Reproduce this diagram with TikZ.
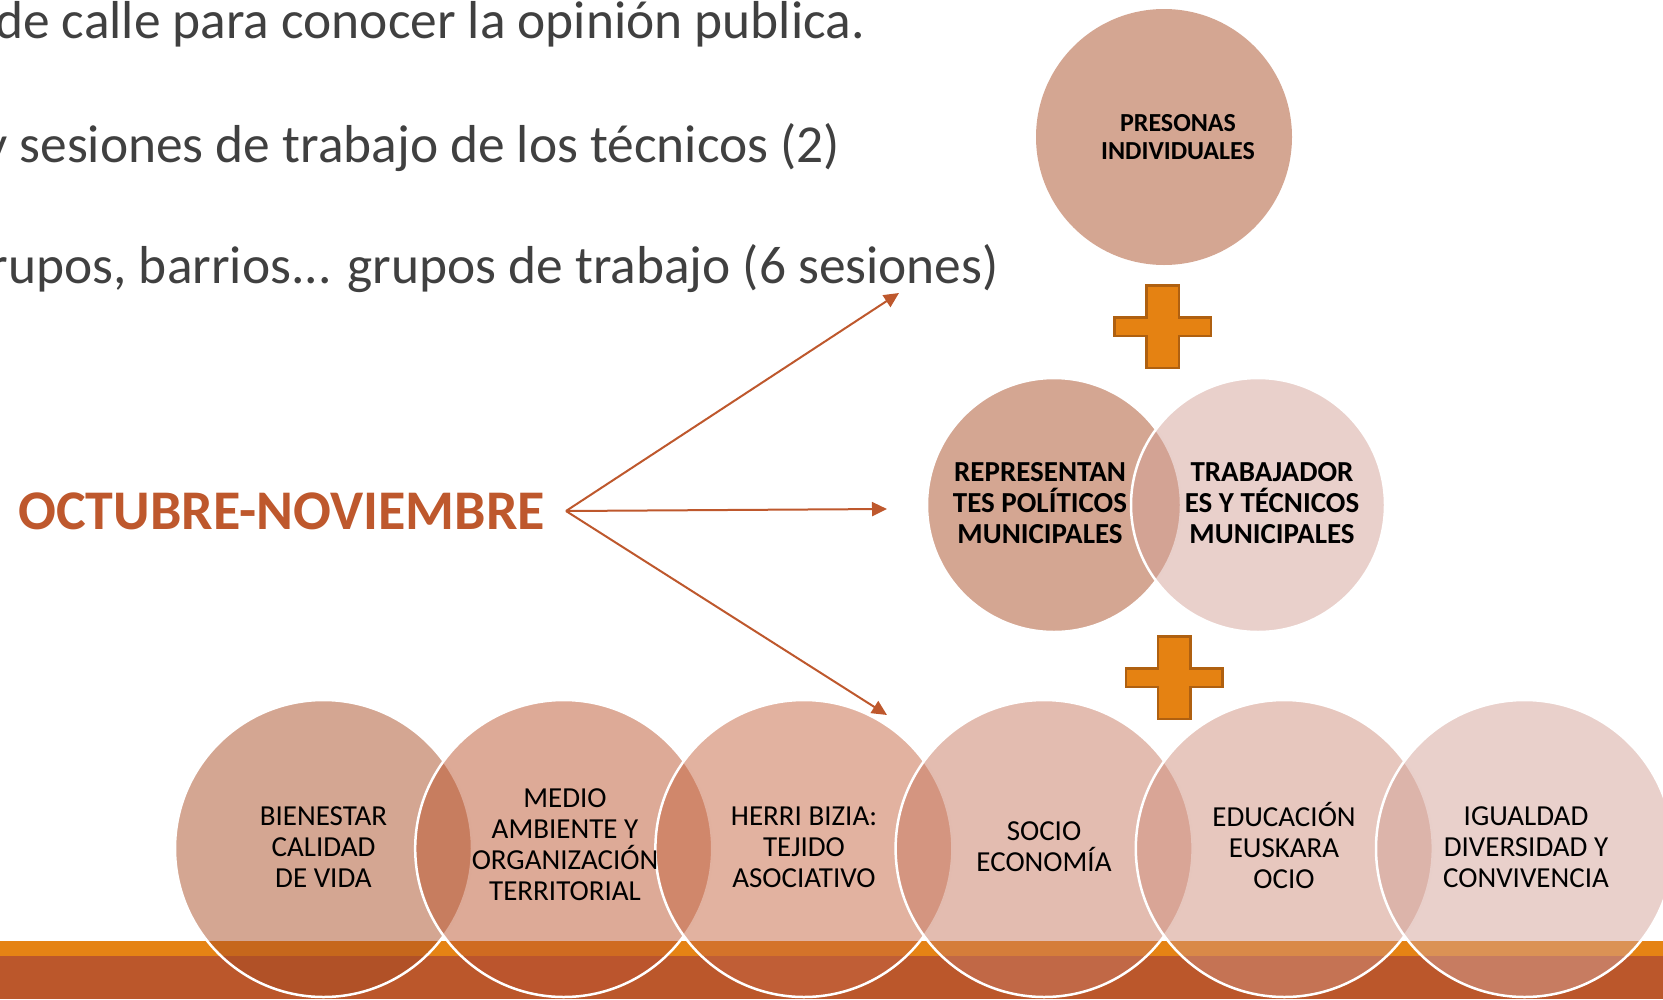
\documentclass[tikz,border=0pt]{standalone}
\usepackage{fontspec}
\setmainfont{Carlito}
\usetikzlibrary{arrows.meta}
\definecolor{txtgray}{RGB}{64,64,64}
\definecolor{rust}{RGB}{190,88,45}
\definecolor{bandorange}{RGB}{229,131,20}
\definecolor{bandrust}{RGB}{187,87,43}
\definecolor{plusfill}{RGB}{229,130,18}
\definecolor{plusedge}{RGB}{175,96,16}
\definecolor{ca}{RGB}{169,77,37}
\definecolor{cb}{RGB}{187,85,47}
\definecolor{cc}{RGB}{197,101,65}
\definecolor{cd}{RGB}{199,121,97}
\definecolor{ce}{RGB}{207,143,125}
\definecolor{cf}{RGB}{211,161,151}
\tikzset{
  plussign/.pic={
    \draw[line width=2.5pt, draw=plusedge, fill=plusfill, line join=miter]
      (-16.25,-41.25) -- (16.25,-41.25) -- (16.25,-9.25) -- (48.25,-9.25) --
      (48.25,9.25) -- (16.25,9.25) -- (16.25,41.25) -- (-16.25,41.25) --
      (-16.25,9.25) -- (-48.25,9.25) -- (-48.25,-9.25) -- (-16.25,-9.25) -- cycle;
  }
}
\begin{document}
\begin{tikzpicture}[x=1pt,y=-1pt,
  venn/.style={circle, inner sep=0pt, fill opacity=0.5, draw=white, draw opacity=1, line width=2.5pt},
  vennbig/.style={venn, minimum size=297pt},
  vennmid/.style={venn, minimum size=254pt},
  headline/.style={font=\fontsize{53.4}{60}\selectfont, text=txtgray, inner sep=0pt, anchor=base east},
  lblbold/.style={font=\bfseries\fontsize{29}{31}\selectfont, align=center, inner sep=0pt, text=black},
  lbltop/.style={font=\bfseries\fontsize{26}{28}\selectfont, align=center, inner sep=0pt, text=black},
  lblreg/.style={font=\fontsize{29}{31}\selectfont, align=center, inner sep=0pt, text=black},
  titletext/.style={font=\bfseries\fontsize{56}{60}\selectfont, text=rust, inner sep=0pt, anchor=base west},
  arrowline/.style={draw=rust, line width=2pt, -{Triangle[length=15pt,width=14pt]}}
]
\useasboundingbox (0,0) rectangle (1663,999);
\clip (0,0) rectangle (1663,999);

% bottom bands
\fill[bandorange] (0,941) rectangle (1663,956);
\fill[bandrust] (0,956) rectangle (1663,999);

% top text lines
\node[headline] (l1) at (865,38) {de calle para conocer la opinión publica.};
\node[headline] (l2) at (840,162) {y sesiones de trabajo de los técnicos (2)};
\node[headline] (l3) at (999,283) {grupos, barrios... grupos de trabajo (6 sesiones)};

% upper group
\node[venn, minimum size=256pt, fill=ca, draw=none] (top) at (1164,137) {};
\pic (plusA) at (1162.5,326.5) {plussign};
\node[vennmid, fill=ca] (pol) at (1054,505) {};
\node[vennmid, fill=cf] (tec) at (1258,505) {};
\pic (plusB) at (1174,677.5) {plussign};

% bottom row
\node[vennbig, fill=ca] (b1) at (323.5,848.5) {};
\node[vennbig, fill=cb] (b2) at (563.7,848.5) {};
\node[vennbig, fill=cc] (b3) at (803.9,848.5) {};
\node[vennbig, fill=cd] (b4) at (1044.1,848.5) {};
\node[vennbig, fill=ce] (b5) at (1284.3,848.5) {};
\node[vennbig, fill=cf] (b6) at (1524.5,848.5) {};

% labels
\node[lbltop] (ttop) at (1178,137.5) {PRESONAS\\INDIVIDUALES};
\node[lblbold] (tpol) at (1040,503.5) {REPRESENTAN\\TES POLÍTICOS\\MUNICIPALES};
\node[lblbold] (ttec) at (1272,503.5) {TRABAJADOR\\ES Y TÉCNICOS\\MUNICIPALES};
\node[lblreg] (t1) at (323.5,847.5) {BIENESTAR\\CALIDAD\\DE VIDA};
\node[lblreg] (t2) at (565,844.5) {MEDIO\\AMBIENTE Y\\ORGANIZACIÓN\\TERRITORIAL};
\node[lblreg] (t3) at (804,847.5) {HERRI BIZIA:\\TEJIDO\\ASOCIATIVO};
\node[lblreg] (t4) at (1044,846.5) {SOCIO\\ECONOMÍA};
\node[lblreg] (t5) at (1284,845) {EDUCACIÓN\\EUSKARA\\OCIO};
\node[lblreg] (t6) at (1526,847.5) {IGUALDAD\\DIVERSIDAD Y\\CONVIVENCIA};

% title and arrows
\node[titletext] (title) at (18,529) {OCTUBRE-NOVIEMBRE};
\coordinate (src) at (566,511);
\coordinate (upend) at (899,293);
\coordinate (midend) at (887,509);
\coordinate (lowend) at (887,715);
\draw[arrowline] (src) -- (upend);
\draw[arrowline] (src) -- (midend);
\draw[arrowline] (src) -- (lowend);
\end{tikzpicture}
\end{document}
